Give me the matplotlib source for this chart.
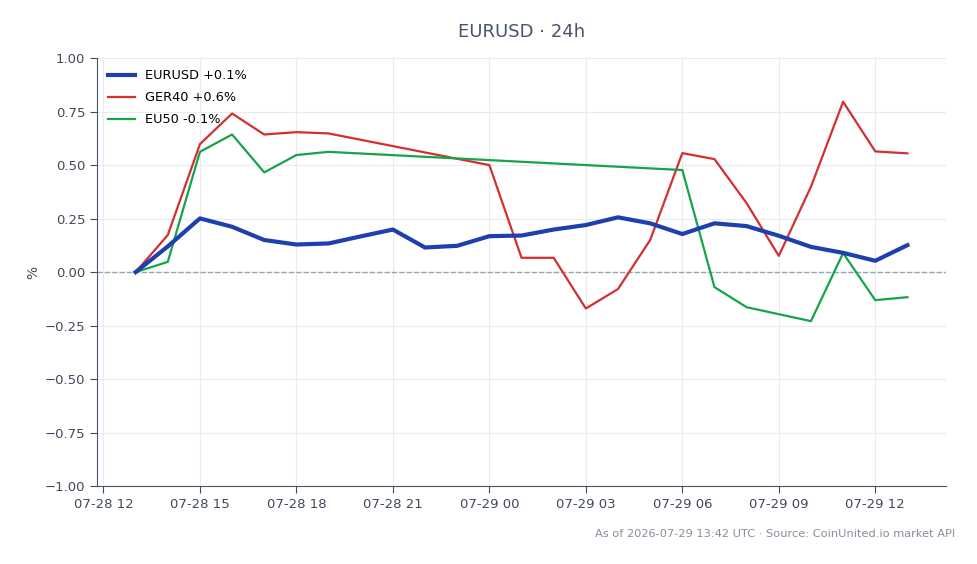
import matplotlib
matplotlib.use('Agg')
import matplotlib.pyplot as plt
import matplotlib.dates as mdates
import numpy as np
import pandas as pd

# hourly % change, 07-28 13:00 -> 07-29 13:00
eurusd_times = pd.date_range('2026-07-28 13:00', '2026-07-29 13:00', freq='h')
eurusd_vals = [0.0, 0.12, 0.251, 0.212, 0.150, 0.129, 0.134, 0.167, 0.199, 0.115,
               0.123, 0.168, 0.171, 0.199, 0.220, 0.256, 0.228, 0.178, 0.228,
               0.215, 0.170, 0.118, 0.090, 0.053, 0.126]

ger40_times = pd.to_datetime([
    '2026-07-28 13:00', '2026-07-28 14:00', '2026-07-28 15:00', '2026-07-28 16:00',
    '2026-07-28 17:00', '2026-07-28 18:00', '2026-07-28 19:00', '2026-07-29 00:00',
    '2026-07-29 01:00', '2026-07-29 02:00', '2026-07-29 03:00', '2026-07-29 04:00',
    '2026-07-29 05:00', '2026-07-29 06:00', '2026-07-29 07:00', '2026-07-29 08:00',
    '2026-07-29 09:00', '2026-07-29 10:00', '2026-07-29 11:00', '2026-07-29 12:00',
    '2026-07-29 13:00'])
ger40_vals = [0.0, 0.173, 0.598, 0.741, 0.643, 0.654, 0.648, 0.50,
              0.067, 0.067, -0.170, -0.079, 0.150, 0.556, 0.528, 0.322,
              0.076, 0.399, 0.796, 0.564, 0.555]

eu50_times = pd.to_datetime([
    '2026-07-28 13:00', '2026-07-28 14:00', '2026-07-28 15:00', '2026-07-28 16:00',
    '2026-07-28 17:00', '2026-07-28 18:00', '2026-07-28 19:00', '2026-07-29 06:00',
    '2026-07-29 07:00', '2026-07-29 08:00', '2026-07-29 10:00', '2026-07-29 11:00',
    '2026-07-29 12:00', '2026-07-29 13:00'])
eu50_vals = [0.0, 0.048, 0.562, 0.643, 0.466, 0.547, 0.562, 0.477,
             -0.070, -0.164, -0.229, 0.089, -0.131, -0.117]

labels = ['EURUSD +0.1%', 'GER40 +0.6%', 'EU50 -0.1%']
colors = ['#1e40af', '#d32f2f', '#16a34a']

text_col = '#3f4a5c'
fig = plt.figure(figsize=(9.78, 5.64), dpi=100)
ax = fig.add_axes([0.0992, 0.138, 0.8681, 0.759])

ax.plot(eurusd_times, eurusd_vals, color=colors[0], lw=3.0, label=labels[0], zorder=4)
ax.plot(ger40_times, ger40_vals, color=colors[1], lw=1.6, label=labels[1], zorder=3)
ax.plot(eu50_times, eu50_vals, color=colors[2], lw=1.6, label=labels[2], zorder=3)
ax.axhline(0, color='#94a3b8', lw=1.0, ls='--', zorder=2)

ax.set_ylim(-1.0, 1.0)
ax.set_yticks(np.arange(-1.0, 1.01, 0.25))
ax.xaxis.set_major_locator(mdates.HourLocator(byhour=range(0, 24, 3)))
ax.xaxis.set_major_formatter(mdates.DateFormatter('%m-%d %H'))

ax.grid(True, color='#e8ecf1', lw=0.8)
ax.set_axisbelow(True)
for s in ['top', 'right']:
    ax.spines[s].set_visible(False)
for s in ['left', 'bottom']:
    ax.spines[s].set_color('#475569')
ax.tick_params(colors=text_col, labelsize=9.5, length=5)
ax.set_ylabel('%', color=text_col, fontsize=10, labelpad=3)

ax.legend(loc='upper left', frameon=False, fontsize=9.3, handlelength=2.1,
          labelspacing=0.7, borderaxespad=0.45)

fig.text(0.5333, 0.943, 'EURUSD · 24h', ha='center', va='center', fontsize=13, color='#475569')
fig.text(0.977, 0.054, 'As of 2026-07-29 13:42 UTC · Source: CoinUnited.io market API',
         ha='right', va='center', fontsize=8.2, color='#848e9c')

fig.savefig('out.png', dpi=100)
